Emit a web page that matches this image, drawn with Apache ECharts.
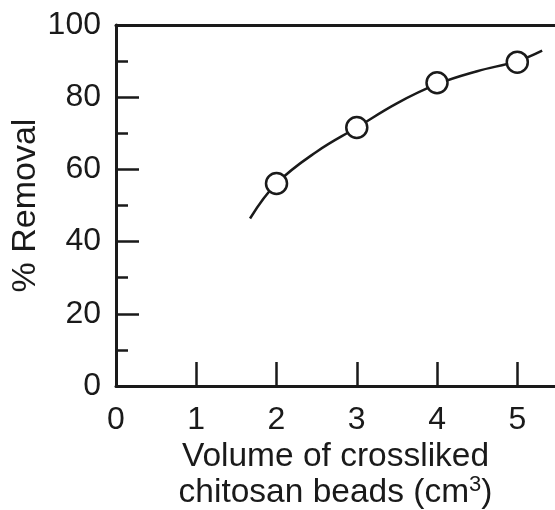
<!DOCTYPE html>
<html>
<head>
<meta charset="utf-8">
<script src="https://cdn.jsdelivr.net/npm/echarts@6/dist/echarts.min.js"></script>
<style>
  html, body { margin: 0; padding: 0; background: #fff; }
  #chart { width: 555px; height: 510px; }
</style>
</head>
<body>
<div id="chart"></div>
<script>
// measured points (volume cm3, % removal)
const volumes = [2, 3, 4, 5]
const removal = [56.1, 71.6, 84.0, 89.7]

// fitted curve
const curveX = [1.67, 2.0, 2.5, 3.0, 3.5, 4.0, 4.5, 5.0, 5.31]
const curveY = [46.4, 56.1, 64.9, 71.6, 78.3, 83.6, 87.2, 90.0, 92.9]

const xTicks = [0, 1, 2, 3, 4, 5]
const yTicks = [0, 20, 40, 60, 80, 100]

const ink = '#1a1a1a'
const font = 'Liberation Sans, Arial, sans-serif'

const chart = echarts.init(document.getElementById('chart'))

const option = {
  animation: false,
  grid: { left: 116, right: 0, top: 25, bottom: 124, outerBoundsMode: 'none', containLabel: false },
  xAxis: [
    {
      type: 'value',
      min: 0,
      max: 5.47,
      interval: 1,
      splitLine: { show: false },
      axisLine: { lineStyle: { color: ink, width: 3 } },
      axisTick: { inside: true, length: 24, customValues: xTicks, lineStyle: { color: ink, width: 2.5 } },
      axisLabel: { customValues: xTicks, color: ink, fontSize: 32, fontFamily: font, margin: 18 },
      name: '{t|Volume of crossliked}\n{t|chitosan beads (cm}{s|3}{t|)}',
      nameLocation: 'middle',
      nameGap: 53,
      nameMoveOverlap: false,
      nameTextStyle: {
        rich: {
          t: { fontSize: 33.5, fontFamily: font, color: ink, lineHeight: 36 },
          s: { fontSize: 22, fontFamily: font, color: ink, lineHeight: 36, padding: [0, 0, 16, 0] }
        }
      }
    },
    {
      type: 'value',
      position: 'top',
      min: 0,
      max: 5.47,
      axisLine: { show: true, onZero: false, lineStyle: { color: ink, width: 3 } },
      axisTick: { show: false },
      axisLabel: { show: false },
      splitLine: { show: false }
    }
  ],
  yAxis: {
    type: 'value',
    min: 0,
    max: 100,
    interval: 20,
    splitLine: { show: false },
    axisLine: { show: true, lineStyle: { color: ink, width: 3 } },
    axisTick: { inside: true, length: 23, customValues: yTicks, lineStyle: { color: ink, width: 2.5 } },
    minorTick: { show: true, splitNumber: 2, length: 12, lineStyle: { color: ink, width: 2.5 } },
    axisLabel: { color: ink, fontSize: 32, fontFamily: font, margin: 15 },
    name: '% Removal',
    nameLocation: 'middle',
    nameGap: 73,
    nameMoveOverlap: false,
    nameTextStyle: { color: ink, fontSize: 34, fontFamily: font }
  },
  series: [
    {
      type: 'line',
      smooth: 0.4,
      showSymbol: false,
      data: curveX.map((x, i) => [x, curveY[i]]),
      lineStyle: { color: ink, width: 2.5 }
    },
    {
      type: 'scatter',
      symbol: 'circle',
      symbolSize: 21,
      data: volumes.map((x, i) => [x, removal[i]]),
      itemStyle: { color: '#fff', borderColor: ink, borderWidth: 2.5, opacity: 1 },
      z: 5
    }
  ]
}

chart.setOption(option)
</script>
</body>
</html>
